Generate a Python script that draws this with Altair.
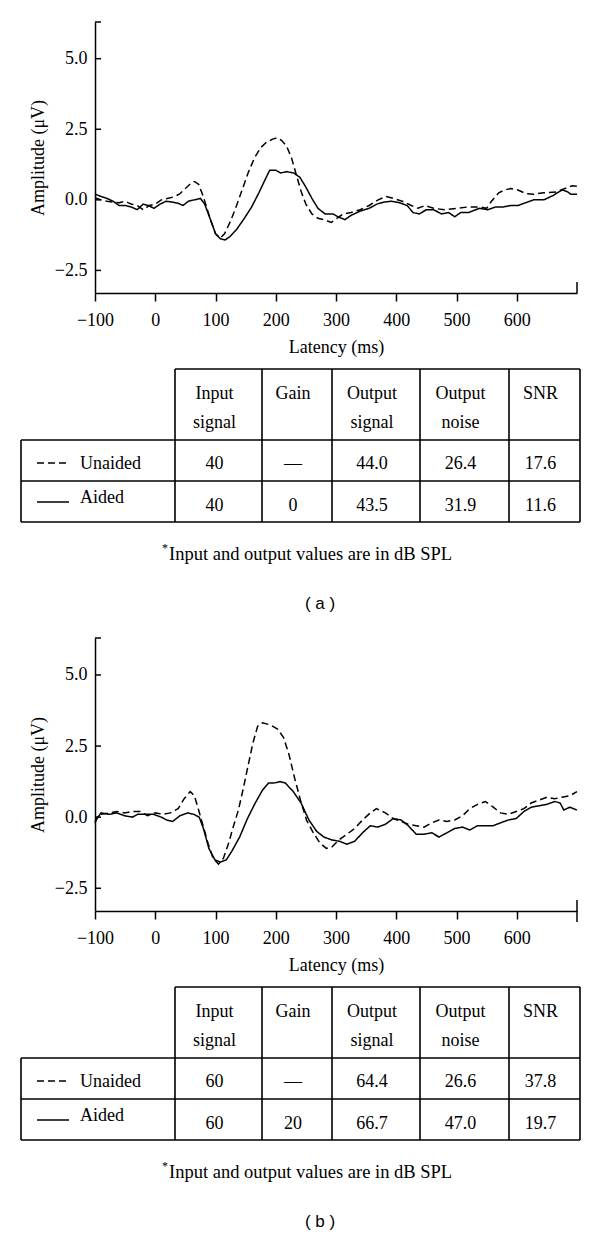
import altair as alt
import pandas as pd

# ---------------- data ----------------
# panel (a): 40 dB SPL input
a_unaided_t = [-100, -90, -80, -70, -60, -50, -40, -30, -20, -10,
               0, 10, 20, 30, 40, 50, 60, 65, 72, 80,
               90, 100, 108, 115, 125, 135, 145, 155, 165, 175,
               185, 195, 202, 210, 218, 226, 234, 242, 250, 260,
               270, 280, 292, 302, 312, 325, 340, 355, 370, 383,
               395, 410, 425, 436, 448, 462, 480, 500, 520, 538,
               550, 558, 570, 580, 590, 602, 615, 628, 645, 665,
               680, 692, 700]
a_unaided_v = [0.08, 0.0, -0.05, -0.08, -0.1, -0.05, -0.15, -0.2, -0.35, -0.2,
               -0.15, 0.0, 0.05, 0.1, 0.2, 0.4, 0.6, 0.65, 0.55, 0.1,
               -0.6, -1.2, -1.35, -1.2, -0.75, -0.2, 0.4, 1.0, 1.5, 1.85,
               2.05, 2.15, 2.2, 2.1, 1.9, 1.5, 0.9, 0.3, -0.15, -0.5,
               -0.65, -0.7, -0.8, -0.65, -0.5, -0.45, -0.35, -0.2, 0.0, 0.12,
               0.05, -0.05, -0.2, -0.3, -0.2, -0.3, -0.35, -0.3, -0.25, -0.25,
               -0.3, -0.05, 0.25, 0.35, 0.4, 0.35, 0.22, 0.2, 0.25, 0.28,
               0.4, 0.5, 0.48]
a_aided_t = [-100, -90, -80, -70, -60, -50, -40, -30, -20, -12,
             -2, 8, 18, 28, 38, 46, 55, 65, 75, 82,
             90, 100, 108, 116, 124, 135, 148, 160, 172, 182,
             190, 200, 208, 218, 230, 240, 250, 260, 270, 282,
             295, 303, 315, 325, 340, 355, 368, 380, 392, 405,
             418, 428, 438, 450, 462, 475, 487, 497, 507, 520,
             538, 552, 565, 578, 590, 602, 615, 628, 645, 660,
             675, 683, 690, 700]
a_aided_v = [0.2, 0.12, 0.05, -0.05, -0.2, -0.2, -0.25, -0.35, -0.15, -0.2,
             -0.3, -0.15, -0.05, -0.08, -0.12, -0.2, -0.05, 0.0, 0.05, -0.15,
             -0.6, -1.2, -1.38, -1.42, -1.3, -1.05, -0.65, -0.25, 0.25, 0.7,
             1.05, 1.05, 0.95, 1.0, 0.95, 0.8, 0.45, 0.05, -0.3, -0.5,
             -0.5, -0.6, -0.7, -0.55, -0.4, -0.3, -0.15, -0.08, -0.05, -0.1,
             -0.2, -0.45, -0.5, -0.35, -0.35, -0.5, -0.45, -0.6, -0.45, -0.45,
             -0.3, -0.35, -0.25, -0.25, -0.2, -0.2, -0.1, 0.0, 0.0, 0.15,
             0.35, 0.3, 0.2, 0.2]

# panel (b): 60 dB SPL input
b_unaided_t = [-100, -95, -90, -76, -64, -51, -38, -25, -13, 0,
               13, 25, 38, 48, 58, 65, 72, 80, 88, 96,
               105, 113, 122, 130, 138, 146, 154, 162, 170, 178,
               190, 203, 213, 222, 231, 241, 251, 261, 273, 284,
               293, 305, 318, 331, 344, 357, 367, 382, 395, 408,
               420, 433, 446, 459, 471, 484, 497, 510, 522, 535,
               548, 561, 573, 586, 599, 612, 624, 637, 650, 663,
               675, 688, 700]
b_unaided_v = [-0.2, 0.05, 0.1, 0.15, 0.2, 0.15, 0.2, 0.2, 0.05, 0.15,
               0.1, 0.15, 0.3, 0.65, 0.9, 0.75, 0.25, -0.35, -0.95, -1.45,
               -1.65, -1.45, -0.9, -0.3, 0.25, 1.0, 1.8, 2.6, 3.2, 3.32,
               3.25, 3.1, 2.8, 2.2, 1.4, 0.6, -0.1, -0.5, -0.9, -1.1,
               -1.05, -0.8, -0.6, -0.4, -0.1, 0.15, 0.3, 0.15, -0.05, -0.15,
               -0.25, -0.3, -0.35, -0.2, -0.1, -0.15, -0.1, 0.05, 0.3, 0.45,
               0.55, 0.35, 0.15, 0.1, 0.2, 0.3, 0.5, 0.6, 0.7, 0.65,
               0.7, 0.75, 0.9]
b_aided_t = [-100, -90, -76, -64, -51, -38, -29, -16, -3, 10,
             19, 29, 41, 54, 64, 73, 80, 89, 99, 108,
             118, 127, 140, 153, 166, 178, 188, 197, 207, 216,
             229, 242, 255, 268, 280, 293, 306, 318, 331, 344,
             357, 369, 382, 395, 408, 420, 433, 446, 459, 471,
             484, 497, 510, 522, 535, 548, 561, 573, 586, 599,
             612, 624, 637, 650, 663, 672, 678, 688, 700]
b_aided_v = [-0.15, 0.15, 0.1, 0.15, 0.05, 0.0, 0.1, 0.1, 0.1, 0.0,
             -0.1, -0.15, 0.05, 0.15, 0.1, 0.0, -0.4, -1.1, -1.5, -1.58,
             -1.5, -1.2, -0.7, -0.05, 0.5, 0.95, 1.2, 1.2, 1.25, 1.2,
             0.9, 0.5, -0.1, -0.5, -0.7, -0.8, -0.85, -0.95, -0.85, -0.55,
             -0.3, -0.35, -0.25, -0.05, -0.1, -0.3, -0.6, -0.6, -0.55, -0.7,
             -0.55, -0.4, -0.35, -0.45, -0.3, -0.3, -0.3, -0.2, -0.1, -0.05,
             0.2, 0.35, 0.4, 0.45, 0.55, 0.5, 0.25, 0.35, 0.25]

series_names = ["Unaided", "Aided"]
x_tick_values = [-100, 0, 100, 200, 300, 400, 500, 600]
y_tick_values = [-2.5, 0.0, 2.5, 5.0]

header_line1 = ["Input", "Gain", "Output", "Output", "SNR"]
header_line2 = ["signal", "", "signal", "noise", ""]
a_unaided_row = ["40", "\u2014", "44.0", "26.4", "17.6"]
a_aided_row = ["40", "0", "43.5", "31.9", "11.6"]
b_unaided_row = ["60", "\u2014", "64.4", "26.6", "37.8"]
b_aided_row = ["60", "20", "66.7", "47.0", "19.7"]
footnote_text = "Input and output values are in dB SPL"
captions = ["( a )", "( b )"]

# ---------------- layout ----------------
SERIF = "Liberation Serif"
SANS = "Liberation Sans"
PLOT_W = 482
Y_DOMAIN = [-3.3, 6.3]
X_DOMAIN = [-100, 700]
TABLE_LEFT = -74
COL_W = [154, 87, 70, 88, 89, 71]
TABLE_TOP = 76
ROW_H = [71, 41, 41]
FS = 18
DASH = alt.Scale(domain=series_names, range=[[7, 4], [1, 0]])


def line_panel(ut, uv, at, av, h, tick_down):
    df = pd.DataFrame({
        "t": ut + at,
        "v": uv + av,
        "series": [series_names[0]] * len(ut) + [series_names[1]] * len(at),
    })
    xs = alt.Scale(domain=X_DOMAIN, nice=False, zero=False)
    ys = alt.Scale(domain=Y_DOMAIN, nice=False, zero=False)
    x_axis = alt.Axis(
        values=x_tick_values, format="d", title="Latency (ms)",
        tickSize=8, tickWidth=1.5, tickColor="black",
        domainColor="black", domainWidth=1.5,
        labelFont=SERIF, labelFontSize=FS, labelColor="black",
        labelBaseline="middle", labelPadding=19, labelFlush=False,
        labelOverlap=False, grid=False,
        titleFont=SERIF, titleFontSize=FS, titleFontWeight="normal",
        titleColor="black", titleBaseline="middle", titleY=54)
    y_axis = alt.Axis(
        values=y_tick_values, format=".1f", title="Amplitude (\u03bcV)",
        ticks=False, tickSize=0, domainColor="black", domainWidth=1.5,
        labelFont=SERIF, labelFontSize=FS, labelColor="black",
        labelPadding=8, labelFlush=False, labelOverlap=False, grid=False,
        titleFont=SERIF, titleFontSize=FS, titleFontWeight="normal",
        titleColor="black", titleBaseline="middle", titleX=-57,
        titleY=h / 2)
    lines = alt.Chart(df).mark_line(color="black", strokeWidth=1.5).encode(
        x=alt.X("t:Q", scale=xs, axis=x_axis),
        y=alt.Y("v:Q", scale=ys, axis=y_axis),
        strokeDash=alt.StrokeDash("series:N", scale=DASH, legend=None),
    )
    yticks = alt.Chart(pd.DataFrame({"v": y_tick_values + [Y_DOMAIN[1]]})).mark_rule(
        color="black", strokeWidth=1.5).encode(
        y=alt.Y("v:Q", scale=ys, axis=y_axis), x=alt.value(0), x2=alt.value(6))
    xend = alt.Chart(pd.DataFrame({"t": [X_DOMAIN[1]]})).mark_rule(
        color="black", strokeWidth=1.5).encode(
        x=alt.X("t:Q", scale=xs, axis=x_axis),
        y=alt.value(h - 11), y2=alt.value(h + (11 if tick_down else 0)))
    return alt.layer(lines, yticks, xend).properties(width=PLOT_W, height=h)


def table_panel(row_u, row_a, caption, h):
    edges = [TABLE_LEFT]
    for w in COL_W:
        edges.append(edges[-1] + w)
    rows = [TABLE_TOP]
    for rh in ROW_H:
        rows.append(rows[-1] + rh)
    xs = alt.Scale(domain=[0, PLOT_W], nice=False, zero=False)
    ys = alt.Scale(domain=[0, h], nice=False, zero=False, reverse=True)
    X = alt.X("x:Q", scale=xs, axis=None)
    Y = alt.Y("y:Q", scale=ys, axis=None)

    grid = [dict(x=edges[1], x2=edges[-1], y=rows[0], y2=rows[0])]
    for yy in rows[1:]:
        grid.append(dict(x=edges[0], x2=edges[-1], y=yy, y2=yy))
    grid.append(dict(x=edges[0], x2=edges[0], y=rows[1], y2=rows[-1]))
    for xx in edges[1:]:
        grid.append(dict(x=xx, x2=xx, y=rows[0], y2=rows[-1]))
    grid_layer = alt.Chart(pd.DataFrame(grid)).mark_rule(
        color="black", strokeWidth=1.6).encode(x=X, x2="x2:Q", y=Y, y2="y2:Q")

    centers = [(edges[i + 1] + edges[i + 2]) / 2 - 4 for i in range(5)]
    cells = []
    for i in range(5):
        cells.append(dict(x=centers[i], y=rows[0] + 25, text=header_line1[i]))
        if header_line2[i]:
            cells.append(dict(x=centers[i], y=rows[0] + 54, text=header_line2[i]))
        cells.append(dict(x=centers[i], y=rows[0] + 95, text=row_u[i]))
        cells.append(dict(x=centers[i], y=rows[0] + 137, text=row_a[i]))
    cell_layer = alt.Chart(pd.DataFrame(cells)).mark_text(
        font=SERIF, fontSize=FS, color="black", baseline="middle", align="center"
    ).encode(x=X, y=Y, text="text:N")

    labels = pd.DataFrame({"x": [-15, -15], "y": [rows[0] + 95, rows[0] + 129],
                           "text": series_names})
    label_layer = alt.Chart(labels).mark_text(
        font=SERIF, fontSize=FS, color="black", baseline="middle", align="left"
    ).encode(x=X, y=Y, text="text:N")

    samples = pd.DataFrame({"x": [-58, -58], "x2": [-26, -26],
                            "y": [rows[0] + 94, rows[0] + 133],
                            "series": series_names})
    sample_layer = alt.Chart(samples).mark_rule(color="black", strokeWidth=1.4).encode(
        x=X, x2="x2:Q", y=Y,
        strokeDash=alt.StrokeDash("series:N", scale=DASH, legend=None))

    foot = alt.Chart(pd.DataFrame({"x": [74], "y": [rows[0] + 185],
                                   "text": [footnote_text]})).mark_text(
        font=SERIF, fontSize=18.5, color="black", baseline="middle", align="left"
    ).encode(x=X, y=Y, text="text:N")
    star = alt.Chart(pd.DataFrame({"x": [70], "y": [rows[0] + 179],
                                   "text": ["*"]})).mark_text(
        font=SERIF, fontSize=12, color="black", baseline="middle", align="center"
    ).encode(x=X, y=Y, text="text:N")
    cap = alt.Chart(pd.DataFrame({"x": [225], "y": [rows[0] + 235],
                                  "text": [caption]})).mark_text(
        font=SANS, fontSize=17, color="black", baseline="middle", align="center"
    ).encode(x=X, y=Y, text="text:N")

    return alt.layer(grid_layer, sample_layer, cell_layer, label_layer,
                     foot, star, cap).properties(width=PLOT_W, height=h)


line_a = line_panel(a_unaided_t, a_unaided_v, a_aided_t, a_aided_v, 271, False)
table_a = table_panel(a_unaided_row, a_aided_row, captions[0], 345)
line_b = line_panel(b_unaided_t, b_unaided_v, b_aided_t, b_aided_v, 273, True)
table_b = table_panel(b_unaided_row, b_aided_row, captions[1], 326)

chart = alt.vconcat(line_a, table_a, line_b, table_b, spacing=0, bounds="flush").resolve_scale(
    x="independent", y="independent"
).properties(
    padding={"left": 12, "top": 13, "right": 4, "bottom": 4}
).configure(font=SERIF, background="white").configure_view(stroke=None)

chart.save("out.html", embed_options={"renderer": "svg", "actions": False})
